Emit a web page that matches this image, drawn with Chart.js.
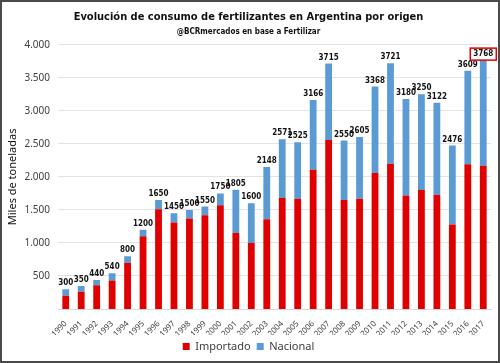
<!DOCTYPE html>
<html>
<head>
<meta charset="utf-8">
<script src="https://cdn.jsdelivr.net/npm/chart.js@4"></script>
<style>
  html, body { margin: 0; padding: 0; background: #fff; }
  #wrap { width: 500px; height: 363px; }
</style>
</head>
<body>
<div id="wrap"><canvas id="chart" width="500" height="363"></canvas></div>
<script>
// Consumo de fertilizantes en Argentina (miles de toneladas)
const years = ['1990','1991','1992','1993','1994','1995','1996','1997','1998','1999',
  '2000','2001','2002','2003','2004','2005','2006','2007','2008','2009',
  '2010','2011','2012','2013','2014','2015','2016','2017'];
const importado = [200, 260, 360, 430, 700, 1100, 1510, 1310, 1370, 1420,
  1570, 1150, 1000, 1360, 1680, 1670, 2110, 2560, 1650, 1670,
  2060, 2200, 1720, 1800, 1730, 1280, 2190, 2170];
const nacional = [100, 90, 80, 110, 100, 100, 140, 140, 130, 130,
  180, 655, 600, 788, 891, 855, 1056, 1155, 900, 935,
  1308, 1521, 1460, 1450, 1392, 1196, 1419, 1598];
const totales = [300, 350, 440, 540, 800, 1200, 1650, 1450, 1500, 1550,
  1750, 1805, 1600, 2148, 2571, 2525, 3166, 3715, 2550, 2605,
  3368, 3721, 3180, 3250, 3122, 2476, 3609, 3768];
const yTicks = [500, 1000, 1500, 2000, 2500, 3000, 3500, 4000];

const RED = '#E00000';
const BLUE = '#5B9BD5';
const NARROW = "'Liberation Sans Narrow', 'DejaVu Sans Condensed', sans-serif";

const fmt = (v) => v.toString().replace(/\B(?=(\d{3})+(?!\d))/g, '.');

// white background + frame
const framePlugin = {
  id: 'frame',
  beforeDraw(chart) {
    const { ctx, width, height } = chart;
    ctx.save();
    ctx.fillStyle = '#fff';
    ctx.fillRect(0, 0, width, height);
    ctx.restore();
  },
  afterDraw(chart) {
    const { ctx, width, height } = chart;
    ctx.save();
    ctx.strokeStyle = '#4a4a4a';
    ctx.lineWidth = 2;
    ctx.strokeRect(1, 1, width - 2, height - 2);
    ctx.restore();
  },
};

// totals above each stacked bar
const totalsPlugin = {
  id: 'totals',
  afterDatasetsDraw(chart) {
    const { ctx } = chart;
    const meta = chart.getDatasetMeta(1);
    ctx.save();
    ctx.font = "bold 8px " + NARROW;
    ctx.fillStyle = '#111';
    ctx.textAlign = 'center';
    ctx.textBaseline = 'middle';
    meta.data.forEach((bar, i) => {
      const txt = String(totales[i]);
      const y = bar.y - 6;
      if (i === totales.length - 1) {
        const w = ctx.measureText(txt).width + 6;
        ctx.fillStyle = '#fff';
        ctx.fillRect(bar.x - w / 2, y - 6, w, 12);
        ctx.strokeStyle = RED;
        ctx.lineWidth = 1.5;
        ctx.strokeRect(bar.x - w / 2, y - 6, w, 12);
        ctx.fillStyle = '#111';
      }
      ctx.fillText(txt, bar.x, y);
    });
    ctx.restore();
  },
};

new Chart(document.getElementById('chart'), {
  type: 'bar',
  data: {
    labels: years,
    datasets: [
      {
        label: 'Importado',
        data: importado,
        backgroundColor: RED,
        categoryPercentage: 1,
        barPercentage: 0.44,
      },
      {
        label: 'Nacional',
        data: nacional,
        backgroundColor: BLUE,
        categoryPercentage: 1,
        barPercentage: 0.44,
      },
    ],
  },
  options: {
    responsive: false,
    animation: false,
    layout: {
      padding: { left: 6, right: 9, top: 9, bottom: 1 },
    },
    plugins: {
      title: {
        display: true,
        text: 'Evolución de consumo de fertilizantes en Argentina por origen',
        color: '#111',
        font: { family: NARROW, size: 11, weight: 'bold' },
        padding: { top: 2, bottom: 3 },
      },
      subtitle: {
        display: true,
        text: '@BCRmercados en base a Fertilizar',
        color: '#111',
        font: { family: NARROW, size: 8, weight: 'bold' },
        padding: { top: 0, bottom: 8 },
      },
      legend: {
        position: 'bottom',
        labels: {
          boxWidth: 7,
          boxHeight: 7,
          color: '#404040',
          font: { family: "'Noto Sans', sans-serif", size: 11 },
          padding: 6,
        },
      },
      tooltip: { enabled: false },
    },
    scales: {
      x: {
        stacked: true,
        grid: { display: false },
        border: { display: true, color: '#d9d9d9' },
        afterFit: (scale) => { scale.height = 26; },
        ticks: {
          color: '#404040',
          font: { family: "'Noto Sans', sans-serif", size: 8 },
          minRotation: 45,
          maxRotation: 45,
          autoSkip: false,
          padding: 2,
        },
      },
      y: {
        stacked: true,
        min: 0,
        max: 4000,
        afterBuildTicks: (scale) => {
          scale.ticks = yTicks.map((v) => ({ value: v }));
        },
        afterFit: (scale) => { scale.width = 52; },
        grid: { color: '#e3e3e3', drawTicks: false },
        border: { display: false },
        title: {
          display: true,
          text: 'Miles de toneladas',
          color: '#111',
          font: { family: "'Noto Sans', sans-serif", size: 11 },
          padding: { top: 0, bottom: 4 },
        },
        ticks: {
          color: '#404040',
          font: { family: "'Noto Sans', sans-serif", size: 10 },
          padding: 8,
          callback: (v) => fmt(v),
        },
      },
    },
  },
  plugins: [framePlugin, totalsPlugin],
});
</script>
</body>
</html>
